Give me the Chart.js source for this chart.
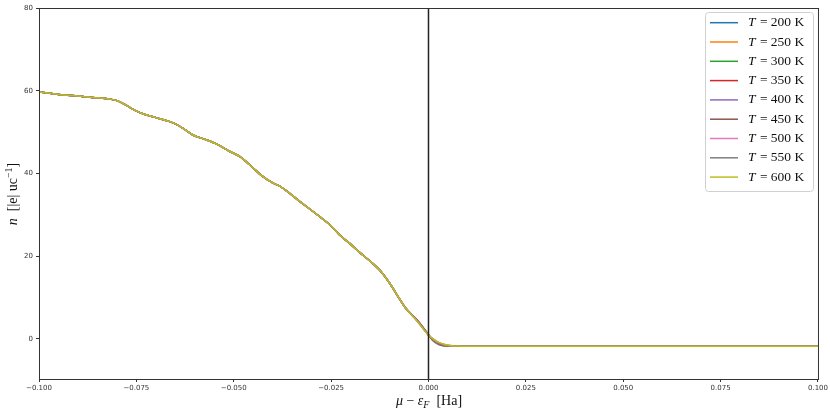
<!DOCTYPE html>
<html>
<head>
<meta charset="utf-8">
<script src="https://cdn.jsdelivr.net/npm/chart.js@4/dist/chart.umd.min.js"></script>
<style>
  body { margin: 0; background: #fff; }
  canvas { display: block; }
</style>
</head>
<body>
<canvas id="chart" width="830" height="410"></canvas>
<script>
// temperatures (K) and their colours (matplotlib tab10)
const temps = [200, 250, 300, 350, 400, 450, 500, 550, 600];
const colors = ['#1f77b4', '#ff7f0e', '#2ca02c', '#d62728', '#9467bd', '#8c564b', '#e377c2', '#7f7f7f', '#bcbd22'];

// mu - eF [Ha], part where all curves are the same
const muLow = [-0.100, -0.095, -0.090, -0.085, -0.082, -0.080, -0.078, -0.0755, -0.073, -0.070,
  -0.067, -0.065, -0.063, -0.0605, -0.057, -0.054, -0.051, -0.0485, -0.045, -0.043,
  -0.040, -0.038, -0.033, -0.028, -0.025, -0.0228, -0.020, -0.0177, -0.015, -0.0126,
  -0.010, -0.0074, -0.006];
const nLow = [59.7, 59.1, 58.7, 58.3, 58.0, 57.6, 56.7, 55.3, 54.3, 53.5,
  52.7, 52.0, 50.9, 49.3, 48.1, 46.9, 45.3, 44.1, 41.3, 39.6,
  37.7, 36.8, 33.2, 29.6, 27.3, 25.1, 22.9, 20.9, 18.8, 16.7,
  13.5, 9.6, 7.6];

// near the Fermi level the curves split a little with temperature
const muMid = [-0.003, -0.001, 0.000, 0.001, 0.0025, 0.004, 0.0055, 0.0075, 0.010];
const nMid200 = [4.6, 2.3, 1.0, -0.30, -1.30, -1.70, -1.80, -1.80, -1.8];
const nMid250 = [4.6, 2.3, 1.0, -0.20, -1.20, -1.65, -1.78, -1.80, -1.8];
const nMid300 = [4.6, 2.2, 1.0, -0.15, -1.10, -1.60, -1.75, -1.80, -1.8];
const nMid350 = [4.6, 2.2, 0.95, -0.10, -1.05, -1.55, -1.72, -1.80, -1.8];
const nMid400 = [4.5, 2.2, 0.95, -0.05, -1.00, -1.50, -1.70, -1.79, -1.8];
const nMid450 = [4.5, 2.1, 0.9, 0.00, -0.95, -1.45, -1.67, -1.78, -1.8];
const nMid500 = [4.5, 2.1, 0.9, 0.05, -0.90, -1.40, -1.64, -1.77, -1.8];
const nMid550 = [4.4, 2.1, 0.9, 0.10, -0.85, -1.35, -1.61, -1.76, -1.8];
const nMid600 = [4.4, 2.0, 0.9, 0.15, -0.80, -1.30, -1.58, -1.75, -1.8];
const nMids = [nMid200, nMid250, nMid300, nMid350, nMid400, nMid450, nMid500, nMid550, nMid600];

// flat tail
const muHigh = [0.025, 0.050, 0.075, 0.100];
const nHigh = [-1.8, -1.8, -1.8, -1.8];

const xTicks = [-0.100, -0.075, -0.050, -0.025, 0.000, 0.025, 0.050, 0.075, 0.100];
const yTicks = [0, 20, 40, 60, 80];

const toPts = (xs, ys) => xs.map((x, i) => ({ x: x, y: ys[i] }));

const datasets = temps.map((t, i) => ({
  label: 'T = ' + t + ' K',
  data: toPts(muLow, nLow).concat(toPts(muMid, nMids[i]), toPts(muHigh, nHigh)),
  borderColor: colors[i],
  backgroundColor: colors[i],
  borderWidth: 1.5,
  pointRadius: 0,
  cubicInterpolationMode: 'monotone',
  order: temps.length - i
}));

// vertical line at the Fermi level
datasets.push({
  label: 'eF',
  data: [{ x: 0, y: -9.7 }, { x: 0, y: 80 }],
  borderColor: '#222',
  borderWidth: 1.5,
  pointRadius: 0,
  order: 0
});

const decor = {
  id: 'decor',
  afterDraw(chart) {
    const ctx = chart.ctx;
    const a = chart.chartArea;
    ctx.save();
    // frame
    ctx.strokeStyle = '#333';
    ctx.lineWidth = 1;
    ctx.strokeRect(a.left + 0.5, a.top + 0.5, a.right - a.left, a.bottom - a.top);

    // legend
    const lx = 705, ly = 12, lw = 108, lh = 179;
    ctx.fillStyle = 'rgba(255,255,255,0.85)';
    ctx.strokeStyle = '#d0d0d0';
    ctx.beginPath();
    ctx.roundRect(lx + 0.5, ly + 0.5, lw, lh, 3);
    ctx.fill();
    ctx.stroke();
    ctx.textBaseline = 'middle';
    temps.forEach((t, i) => {
      const y = 22.7 + i * 19.3;
      ctx.strokeStyle = colors[i];
      ctx.lineWidth = 1.5;
      ctx.beginPath();
      ctx.moveTo(710, y);
      ctx.lineTo(738, y);
      ctx.stroke();
      ctx.fillStyle = '#111';
      ctx.font = 'italic 13.5px "Liberation Serif", serif';
      ctx.fillText('T', 748, y);
      const w = ctx.measureText('T').width;
      ctx.font = '13.5px "Liberation Serif", serif';
      ctx.fillText(' = ' + t + ' K', 748 + w + 1, y);
    });

    // x title
    ctx.fillStyle = '#111';
    ctx.textBaseline = 'alphabetic';
    let parts = [
      ['italic 14px "Liberation Serif", serif', 'μ', 0],
      ['14px "Liberation Serif", serif', ' − ', 0],
      ['italic 14px "Liberation Serif", serif', 'ε', 0],
      ['italic 10px "Liberation Serif", serif', 'F', 3],
      ['14px "Liberation Serif", serif', '  [Ha]', 0]
    ];
    let total = 0;
    parts.forEach(p => { ctx.font = p[0]; total += ctx.measureText(p[1]).width; });
    let x = 429 - total / 2;
    parts.forEach(p => {
      ctx.font = p[0];
      ctx.fillText(p[1], x, 405 + p[2]);
      x += ctx.measureText(p[1]).width;
    });

    // y title
    ctx.translate(17, 194);
    ctx.rotate(-Math.PI / 2);
    parts = [
      ['italic 14px "Liberation Serif", serif', 'n', 0],
      ['14px "Liberation Serif", serif', '  [|e| uc', 0],
      ['10px "Liberation Serif", serif', '−1', -5],
      ['14px "Liberation Serif", serif', ']', 0]
    ];
    total = 0;
    parts.forEach(p => { ctx.font = p[0]; total += ctx.measureText(p[1]).width; });
    x = -total / 2;
    parts.forEach(p => {
      ctx.font = p[0];
      ctx.fillText(p[1], x, p[2]);
      x += ctx.measureText(p[1]).width;
    });
    ctx.restore();
  }
};

const tickFont = { family: '"DejaVu Sans", sans-serif', size: 7 };

new Chart(document.getElementById('chart'), {
  type: 'line',
  data: { datasets: datasets },
  options: {
    responsive: false,
    animation: false,
    devicePixelRatio: 1,
    layout: { padding: { left: 0, right: 11, top: 8, bottom: 0 } },
    plugins: {
      legend: { display: false },
      tooltip: { enabled: false }
    },
    scales: {
      x: {
        type: 'linear',
        min: -0.1,
        max: 0.1,
        afterBuildTicks: axis => { axis.ticks = xTicks.map(v => ({ value: v })); },
        afterFit: s => { s.height = 31; },
        ticks: {
          font: tickFont,
          color: '#333',
          padding: 2,
          maxRotation: 0,
          autoSkip: false,
          callback: v => v.toFixed(3).replace('-', '−')
        },
        grid: { drawOnChartArea: false, drawTicks: true, tickLength: 3, color: '#333' },
        border: { display: true, color: '#333' }
      },
      y: {
        min: -9.7,
        max: 80,
        afterBuildTicks: axis => { axis.ticks = yTicks.map(v => ({ value: v })); },
        afterFit: s => { s.width = 39; },
        ticks: { font: tickFont, color: '#333', padding: 3 },
        grid: { drawOnChartArea: false, drawTicks: true, tickLength: 3, color: '#333' },
        border: { display: true, color: '#333' }
      }
    }
  },
  plugins: [decor]
});
</script>
</body>
</html>
